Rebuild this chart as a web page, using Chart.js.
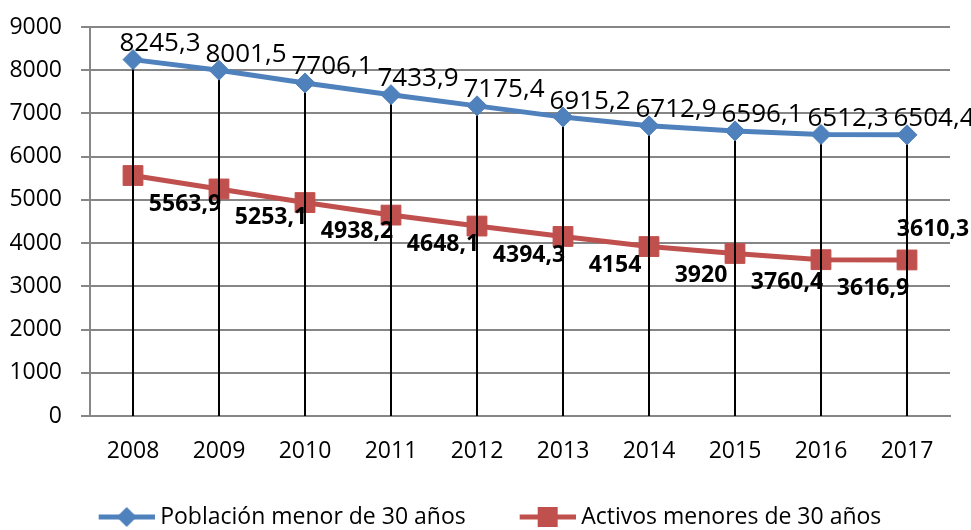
<!DOCTYPE html>
<html>
<head>
<meta charset="utf-8">
<script src="https://cdn.jsdelivr.net/npm/chart.js@4/dist/chart.umd.min.js"></script>
<style>
  body { margin: 0; background: #fff; }
</style>
</head>
<body>
<canvas id="grafico" width="971" height="530"></canvas>
<script>
const years = ["2008", "2009", "2010", "2011", "2012", "2013", "2014", "2015", "2016", "2017"];
const poblacion = [8245.3, 8001.5, 7706.1, 7433.9, 7175.4, 6915.2, 6712.9, 6596.1, 6512.3, 6504.4];
const activos = [5563.9, 5253.1, 4938.2, 4648.1, 4394.3, 4154, 3920, 3760.4, 3616.9, 3610.3];
const seriesNames = ["Población menor de 30 años", "Activos menores de 30 años"];

const azul = "#4F81BD";
const rojo = "#C0504D";
const fuente = "'Open Sans', 'Noto Sans', sans-serif";

function fmt(v) {
    return String(v).replace(".", ",");
}

// icono de leyenda: linea con marcador
function legendIcon(color, diamond) {
    let c = document.createElement("canvas");
    c.width = 92;
    c.height = 26;
    let g = c.getContext("2d");
    g.strokeStyle = color;
    g.lineWidth = 5;
    g.beginPath();
    g.moveTo(36, 13);
    g.lineTo(92, 13);
    g.stroke();
    g.fillStyle = color;
    g.beginPath();
    if (diamond) {
        g.moveTo(64, 3); g.lineTo(74, 13); g.lineTo(64, 23); g.lineTo(54, 13);
    } else {
        g.rect(54, 3, 20, 20);
    }
    g.closePath();
    g.fill();
    return c;
}
const icons = [legendIcon(azul, true), legendIcon(rojo, false)];

const extras = {
    id: "extras",
    afterDatasetDraw(chart, args) {
        // lineas de proyeccion (encima de la serie roja, debajo de la azul)
        if (args.index !== 1) return;
        let ctx = chart.ctx;
        let y0 = chart.scales.y.getPixelForValue(0);
        ctx.save();
        ctx.strokeStyle = "#000";
        ctx.lineWidth = 2;
        chart.getDatasetMeta(0).data.forEach(function (p) {
            ctx.beginPath();
            ctx.moveTo(p.x, p.y);
            ctx.lineTo(p.x, y0);
            ctx.stroke();
        });
        ctx.restore();
    },
    afterDatasetsDraw(chart) {
        let ctx = chart.ctx;
        ctx.save();
        ctx.fillStyle = "#000";
        ctx.textAlign = "center";
        ctx.textBaseline = "middle";
        ctx.font = "26px " + fuente;
        chart.getDatasetMeta(0).data.forEach(function (p, i) {
            ctx.fillText(fmt(poblacion[i]), p.x + 27, p.y - 16);
        });
        ctx.font = "bold 23px " + fuente;
        chart.getDatasetMeta(1).data.forEach(function (p, i) {
            if (i === activos.length - 1) {
                ctx.fillText(fmt(activos[i]), p.x + 26, p.y - 31);
            } else {
                ctx.fillText(fmt(activos[i]), p.x + 52, p.y + 29);
            }
        });
        ctx.restore();
    }
};

new Chart(document.getElementById("grafico"), {
    type: "line",
    data: {
        labels: years,
        datasets: [{
            label: seriesNames[0],
            data: poblacion,
            borderColor: azul,
            backgroundColor: azul,
            borderWidth: 5,
            pointStyle: "rectRot",
            pointRadius: 10,
            pointBorderWidth: 1,
            order: 1
        }, {
            label: seriesNames[1],
            data: activos,
            borderColor: rojo,
            backgroundColor: rojo,
            borderWidth: 5,
            pointStyle: "rect",
            pointRadius: 14,
            pointBorderWidth: 1,
            order: 2
        }]
    },
    options: {
        responsive: false,
        animation: false,
        layout: { padding: { top: 27, right: 21, bottom: -8.5, left: 0 } },
        scales: {
            x: {
                offset: true,
                grid: { display: false, drawTicks: false },
                border: { color: "#868686", width: 2 },
                ticks: { color: "#000", font: { family: fuente, size: 23 }, padding: 22, maxRotation: 0 },
                afterFit(scale) { scale.height = 65.5; }
            },
            y: {
                min: 0,
                max: 9000,
                ticks: {
                    stepSize: 1000,
                    color: "#000",
                    font: { family: fuente, size: 23 },
                    padding: 19,
                    callback: function (v) { return String(v); }
                },
                grid: { color: "#868686", lineWidth: 2, tickLength: 9 },
                border: { color: "#868686", width: 2 },
                afterFit(scale) {
                    scale.width = 90;
                    scale.paddingTop = 0;
                    scale.paddingBottom = 0;
                }
            }
        },
        plugins: {
            tooltip: { enabled: false },
            legend: {
                position: "bottom",
                labels: {
                    usePointStyle: true,
                    pointStyleWidth: 80,
                    padding: 24,
                    color: "#000",
                    font: { family: fuente, size: 23 },
                    generateLabels(chart) {
                        return Chart.defaults.plugins.legend.labels.generateLabels(chart).map(function (it) {
                            it.pointStyle = icons[it.datasetIndex];
                            return it;
                        });
                    }
                }
            }
        }
    },
    plugins: [extras]
});
</script>
</body>
</html>
